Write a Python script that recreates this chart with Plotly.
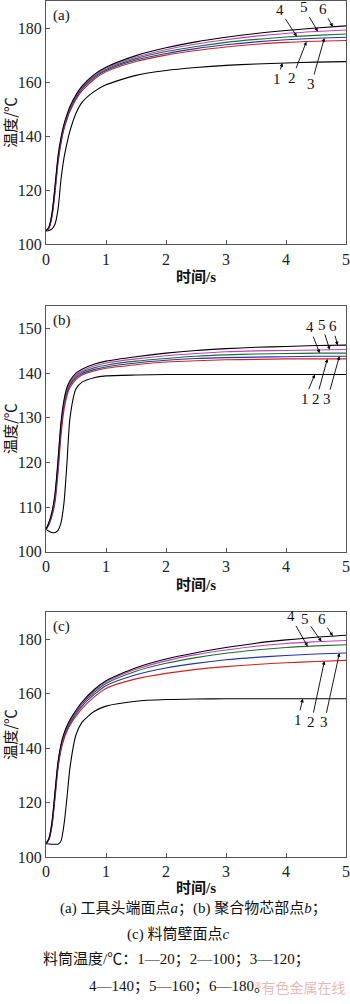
import numpy as np
import plotly.graph_objects as go

# time grid (s)
T = [0, 0.05, 0.1, 0.15, 0.2, 0.25, 0.3, 0.35, 0.4, 0.5, 0.6, 0.8, 1.0, 1.5, 2, 2.5, 3, 3.5, 4, 4.5, 5]

# (a) tool head end face point a
a1 = [105, 105.2, 105.8, 107.5, 113, 124, 132, 137.5, 142, 148.5, 152.5, 156.5, 159, 162.5, 164.3, 165.4, 166.2, 166.7, 167.1, 167.4, 167.6]
a2 = [105, 106, 110.2, 119, 130, 137.4, 142.6, 146.2, 149.2, 153.6, 156.8, 161, 163.8, 167.6, 170, 171.7, 173, 174, 174.7, 175.1, 175.4]
a3 = [105, 106.2, 110.7, 120, 131, 138.2, 143.2, 146.8, 149.8, 154.2, 157.4, 161.6, 164.3, 168.2, 170.6, 172.4, 173.8, 174.9, 175.7, 176.2, 176.6]
a4 = [105, 106.3, 111, 120.5, 131.5, 138.6, 143.6, 147.2, 150.2, 154.6, 157.8, 162, 164.7, 168.7, 171.3, 173.2, 174.7, 175.8, 176.7, 177.3, 177.8]
a5 = [105, 106.4, 111.2, 121, 132, 139, 144, 147.6, 150.6, 155, 158.2, 162.4, 165.1, 169.2, 172, 174.1, 175.7, 177, 178, 178.7, 179.3]
a6 = [105, 106.5, 111.5, 121.5, 132.5, 139.5, 144.5, 148, 151, 155.3, 158.5, 162.8, 165.5, 169.8, 172.7, 174.9, 176.6, 178, 179.1, 180, 180.8]

# (b) polymer core point b
b1 = [105, 104.6, 104.3, 104.3, 104.8, 106.5, 111, 120, 130, 136.5, 138, 139, 139.4, 139.6, 139.7, 139.7, 139.7, 139.7, 139.7, 139.7, 139.7]
b2 = [105, 106.1, 108, 111, 117.5, 126, 131.8, 135, 136.8, 138.6, 139.6, 140.5, 141.1, 141.9, 142.5, 142.8, 143, 143.1, 143.2, 143.2, 143.2]
b3 = [105, 106.3, 108.4, 111.8, 118.8, 127.4, 132.8, 135.6, 137.3, 139, 139.9, 140.8, 141.4, 142.3, 142.9, 143.3, 143.5, 143.6, 143.7, 143.8, 143.8]
b4 = [105, 106.4, 108.6, 112.2, 119.4, 128, 133.2, 136, 137.6, 139.3, 140.2, 141.2, 141.8, 142.7, 143.3, 143.8, 144.1, 144.3, 144.4, 144.5, 144.5]
b5 = [105, 106.5, 108.8, 112.6, 120, 128.5, 133.6, 136.4, 138, 139.6, 140.5, 141.6, 142.3, 143.2, 143.9, 144.4, 144.8, 145, 145.1, 145.2, 145.3]
b6 = [105, 106.6, 109, 113, 120.5, 129, 134, 136.8, 138.3, 140, 140.9, 142, 142.7, 143.7, 144.5, 145.1, 145.5, 145.8, 146, 146.2, 146.3]

# (c) barrel wall point c
c1 = [105, 104.9, 104.8, 104.8, 104.8, 106, 112, 122, 133, 145, 149.5, 153.5, 155.5, 157.3, 157.9, 158.1, 158.2, 158.2, 158.2, 158.2, 158.2]
c2 = [105, 106.5, 111.5, 121.5, 132.5, 139.2, 143.4, 146.3, 148.5, 151.8, 154.6, 158.8, 162, 165.5, 167.5, 169, 170, 170.8, 171.4, 171.9, 172.3]
c3 = [105, 106.7, 112, 122.5, 133.4, 140, 144.1, 147, 149.2, 152.6, 155.5, 159.7, 163, 167, 169.5, 171.2, 172.5, 173.4, 174.1, 174.6, 175]
c4 = [105, 106.8, 112.4, 123, 134, 140.5, 144.6, 147.5, 149.7, 153.2, 156.2, 160.5, 163.8, 168.3, 171.2, 173.3, 174.9, 176.1, 177, 177.6, 178]
c5 = [105, 106.9, 112.7, 123.5, 134.5, 141, 145, 147.9, 150.1, 153.6, 156.6, 161, 164.3, 169, 172.1, 174.4, 176.1, 177.5, 178.5, 179.1, 179.6]
c6 = [105, 107, 113, 124, 135, 141.5, 145.5, 148.3, 150.5, 154, 157, 161.5, 164.8, 169.6, 172.8, 175.1, 177, 178.6, 179.8, 180.8, 181.5]

series_labels = ["1", "2", "3", "4", "5", "6"]
colors = ["#000000", "#d42020", "#2233b0", "#1f6e2a", "#c43cc4", "#000000"]

panels = [
    dict(name="(a)", data=[a1, a2, a3, a4, a5, a6], yrange=[100, 190], dtick=20,
         domain=[0.7543, 0.999],
         # (series index, tip time, text offset ax, ay)
         labels=[(0, 3.94, -5, 16), (1, 4.34, -14, 36), (2, 4.64, -13, 46),
                 (3, 4.18, -17, -26), (4, 4.53, -14, -24), (5, 4.78, -10, -18)],
         xtitle_y=280),
    dict(name="(b)", data=[b1, b2, b3, b4, b5, b6], yrange=[100, 155], dtick=10,
         domain=[0.4455, 0.6922],
         labels=[(0, 4.48, -10, 24), (1, 4.69, -11, 40), (2, 4.89, -12, 43),
                 (3, 4.56, -10, -26), (4, 4.73, -8, -25), (5, 4.86, -5, -19)],
         xtitle_y=590),
    dict(name="(c)", data=[c1, c2, c3, c4, c5, c6], yrange=[100, 190], dtick=20,
         domain=[0.1384, 0.3848],
         labels=[(0, 4.28, -5, 21), (1, 4.64, -13, 61), (2, 4.89, -15, 69),
                 (3, 4.36, -17, -30), (4, 4.59, -16, -23), (5, 4.78, -11, -17)],
         xtitle_y=896),
]

W, H = 350, 1004
SERIF = "Liberation Serif, Noto Sans CJK SC"
CJK = "Noto Sans CJK SC"

fig = go.Figure()
annotations = []
layout = {}

for i, p in enumerate(panels):
    k = "" if i == 0 else str(i + 1)
    xa, ya = "x" + k, "y" + k
    for j, ser in enumerate(p["data"]):
        fig.add_trace(go.Scatter(
            x=T, y=ser, mode="lines", xaxis=xa, yaxis=ya,
            line=dict(color=colors[j], width=1.1, shape="spline", smoothing=0.7),
            showlegend=False, hoverinfo="skip"))
    axis_common = dict(showline=True, linecolor="#555555", linewidth=1, mirror=True,
                       ticks="inside", ticklen=4, tickcolor="#555555", showgrid=False,
                       zeroline=False, ticklabeloverflow="allow",
                       tickfont=dict(family=SERIF, size=16, color="#222222"))
    layout["xaxis" + k] = dict(domain=[0, 1], range=[0, 5], tick0=0, dtick=1,
                               anchor=ya, **axis_common)
    layout["yaxis" + k] = dict(domain=p["domain"], range=p["yrange"], tick0=100,
                               dtick=p["dtick"], anchor=xa, **axis_common)
    # panel letter
    annotations.append(dict(text=p["name"], xref=xa + " domain", yref=ya + " domain",
                            x=0.015, y=0.985, xanchor="left", yanchor="top",
                            showarrow=False, font=dict(family=SERIF, size=15, color="#111")))
    # curve labels with arrows
    for (si, tt, ax, ay) in p["labels"]:
        yy = float(np.interp(tt, T, p["data"][si]))
        annotations.append(dict(text=series_labels[si], x=tt, y=yy, xref=xa, yref=ya,
                                showarrow=True, arrowhead=2, arrowsize=0.8, arrowwidth=0.9,
                                arrowcolor="#000", ax=ax, ay=ay, standoff=0,
                                font=dict(family=SERIF, size=15, color="#111")))
    # y title
    ymid = (p["domain"][0] + p["domain"][1]) / 2
    annotations.append(dict(text="温度/℃", xref="paper", yref="paper",
                            x=(10 - 46) / 301, y=ymid, textangle=-90, showarrow=False,
                            xanchor="center", yanchor="middle",
                            font=dict(family=CJK, size=15, color="#111")))
    # x title
    annotations.append(dict(text="<b>时间/s</b>", xref="paper", yref="paper",
                            x=0.5, y=1 - p["xtitle_y"] / H, showarrow=False,
                            xanchor="center", yanchor="middle",
                            font=dict(family=SERIF, size=15, color="#111")))

# caption
caption = [
    ("(a) 工具头端面点<i>a</i>；(b) 聚合物芯部点<i>b</i>；", 917, 194),
    ("(c) 料筒壁面点<i>c</i>", 943, 178),
    ("料筒温度/℃：1—20；2—100；3—120；", 968, 177),
    ("4—140；5—160；6—180。", 995, 179),
]
for txt, py, px in caption:
    annotations.append(dict(text=txt, xref="paper", yref="paper",
                            x=(px - 46) / 301, y=1 - py / H, showarrow=False,
                            xanchor="center", yanchor="middle",
                            font=dict(family=SERIF, size=15, color="#111")))
# watermark
annotations.append(dict(text="®有色金属在线", xref="paper", yref="paper",
                        x=(349 - 46) / 301, y=1 - 996 / H, showarrow=False,
                        xanchor="right", yanchor="middle",
                        font=dict(family=CJK, size=14, color="rgba(214,110,110,0.5)")))

fig.update_layout(
    width=W, height=H, margin=dict(l=46, r=3, t=0, b=0),
    paper_bgcolor="white", plot_bgcolor="white",
    annotations=annotations, **layout)

fig.write_html("out.html", config={"displayModeBar": False})
